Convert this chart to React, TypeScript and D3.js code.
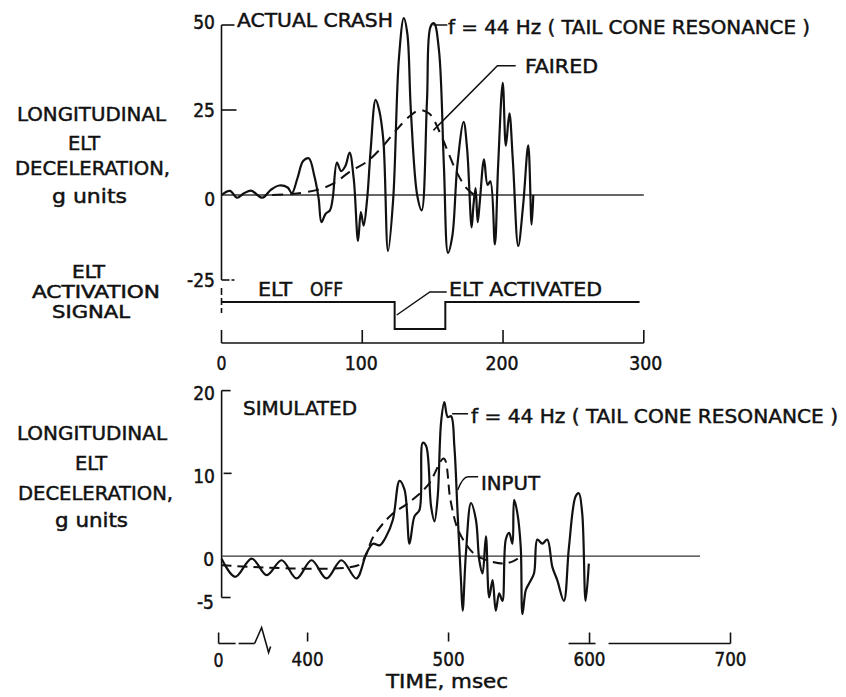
import React from "react";
import * as d3 from "d3";

// ---- data ----
const topTicksX = [0, 100, 200, 300];
const topTickLabelsY = ["50", "25", "0", "-25"];
const topTicksY = [50, 25, 0, -25];

const crashT = [0, 6, 11, 16, 21, 29, 35, 41, 47, 50, 54, 58, 62, 66, 69, 71, 74, 77, 79, 82, 85, 88, 91, 94, 97, 99, 101, 103.5, 106, 109.5, 112, 115, 118.3, 122, 126, 129.5, 132, 134.5, 139, 142.2, 146, 148.5, 151, 154.5, 158, 160.9, 164, 167.5, 172, 174.5, 177.7, 179, 180.5, 182, 183.5, 186.5, 189, 191, 194.2, 196.5, 199.8, 202, 204.5, 207, 210.8, 214.3, 217.9, 220.3, 221.5];
const crashG = [0, 1.2, -0.8, 0.5, 1.3, -0.8, 1.5, 2.8, 2.2, 0.5, 5, 10, 10.8, 5.5, -1, -8, -5.5, -4.5, -1, 9.5, 7, 8.5, 12.5, 4.5, -13.5, -5, -9, -1, 13.5, 28, 25, 16, -16.5, -1, 40, 52, 47.5, 25, 0, -4.5, 28, 49.5, 50.5, 42.5, 8.5, -17, -12, 8.5, 21.5, 13.5, -9.5, -3, 2, -8, -2, 10.5, 3, 4, -14.5, 8.5, 33, 14.5, 24, 10, -15, -2.9, 14.6, -8.7, 0];

const fairedT = [36, 50, 68, 80, 91, 103, 113, 124, 134, 141, 148, 155, 161, 167, 174, 179];
const fairedG = [0, 0.3, 1.5, 3.5, 6.8, 9.7, 13.6, 19, 23.3, 25, 23.8, 18.5, 12.6, 6.8, 2, 0.2];

const signalT = [0, 123, 123, 159, 159, 297];
const signalLevel = [1, 1, 0, 0, 1, 1];

const bottomTicksX = [400, 500, 600, 700];
const bottomTicksY = [20, 10, 0, -5];
const bottomTickLabelsY = ["20", "10", "0", "-5"];

const simT = [339, 348.6, 360.4, 371, 381.6, 392.2, 402.8, 413.4, 424, 434.6, 441.7, 446.4, 451.1, 455.8, 460.5, 465.2, 468.8, 472.3, 475.8, 479.4, 481.7, 484.1, 487.6, 490, 492.3, 494.7, 497, 499.4, 501.8, 504.1, 506.4, 508.8, 510, 512.3, 515.9, 519.4, 521.8, 524.1, 526.5, 528.8, 531.2, 533.5, 535.9, 538.2, 540.6, 543, 545.3, 546.5, 548.8, 551.2, 552.4, 554.8, 557.1, 560.6, 563, 566.5, 570, 573.6, 577.1, 581.8, 585.4, 590.1, 592.4, 594.8, 597.2, 599.5];
const simG = [-0.3, -2.5, -0.3, -2.3, -0.5, -2.7, -0.5, -2.7, -0.5, -2.7, 0.3, 1.5, 1.3, 2.4, 4.4, 9.1, 8, 1.5, 4.8, 5.6, 13.7, 13.3, 6, 4.2, 7.2, 16.2, 18.6, 16.8, 16.9, 13.3, 5.2, -2.9, -6.6, 0.3, 6.4, 4.4, -0.5, -2.1, 2.4, -5, -2.9, -6.6, -4.5, -5.4, 2, 2.8, 1.5, 6.8, 5.2, 1.1, -7, -4.1, -3.3, -2.1, 2, 1.5, 2, -1.3, -2.9, -5.4, 1.1, 7.2, 7.6, 5.2, -5.4, -0.9];

const inputT = [339, 436, 441, 446.5, 459.5, 471.3, 485.5, 496.6, 501.3, 506, 511.4, 518, 525.5, 538.5, 546, 551.5];
const inputG = [-1.1, -1.1, 0, 2.3, 5, 6.4, 8.6, 11.8, 6.8, 3.5, 1.7, 0.3, -0.4, -0.9, -0.6, 0];

const FONT = "'DejaVu Sans Condensed', 'Liberation Sans Narrow', 'DejaVu Sans', sans-serif";
const INK = "#111";

type LP = { x: number; y: number; t: string; len?: number; anchor?: "start" | "middle" | "end"; size?: number };
const L = ({ x, y, t, len, anchor = "start", size = 20 }: LP) => (
  <text
    x={x}
    y={y}
    fontSize={size}
    fontFamily={FONT}
    fill={INK}
    stroke={INK}
    strokeWidth={0.45}
    textAnchor={anchor}
    textLength={len}
    lengthAdjust={len ? "spacingAndGlyphs" : undefined}
  >
    {t}
  </text>
);

export default function App() {
  const xTop = d3.scaleLinear().domain([0, 300]).range([221.5, 643.8]);
  const yTop = d3.scaleLinear().domain([-25, 50]).range([280, 25]);
  const ySig = d3.scaleLinear().domain([0, 1]).range([329, 302]);
  const xBot = d3.scaleLinear().domain([400, 700]).range([307.6, 730.5]);
  const yBot = d3.scaleLinear().domain([-5, 20]).range([597.5, 390.6]);

  const curve = d3.curveCatmullRom.alpha(0.5);
  const topLine = d3.line<number>().x((_, i) => xTop(crashT[i])).y((d) => yTop(d)).curve(curve);
  const fairLine = d3.line<number>().x((_, i) => xTop(fairedT[i])).y((d) => yTop(d)).curve(curve);
  const sigLine = d3.line<number>().x((_, i) => xTop(signalT[i])).y((d) => ySig(d));
  const simLine = d3.line<number>().x((_, i) => xBot(simT[i])).y((d) => yBot(d)).curve(curve);
  const inLine = d3.line<number>().x((_, i) => xBot(inputT[i])).y((d) => yBot(d)).curve(curve);

  const ax = xTop(0);
  const axB = xBot(simT[0]);
  const xAxisY = 343;
  const bAxisY = 643.5;

  return (
    <div>
      <style>{"body{margin:0;background:#fff}"}</style>
      <svg width={846} height={697} style={{ display: "block" }}>
        <rect width={846} height={697} fill="#fff" />
        {/* ---------- left labels ---------- */}
        <L x={17} y={121} t="LONGITUDINAL" len={149} />
        <L x={68} y={150} t="ELT" len={32} />
        <L x={15} y={175} t="DECELERATION," len={155} />
        <L x={52} y={203} t="g units" len={75} />
        <L x={72} y={278} t="ELT" len={33} size={17} />
        <L x={32} y={298} t="ACTIVATION" len={128} size={17} />
        <L x={52} y={318} t="SIGNAL" len={78} size={17} />

        <L x={17} y={440} t="LONGITUDINAL" len={150} />
        <L x={75} y={470} t="ELT" len={32} />
        <L x={18} y={500} t="DECELERATION," len={155} />
        <L x={55} y={527} t="g units" len={73} />

        {/* ---------- top chart axes ---------- */}
        <g stroke={INK} strokeWidth={1.6} fill="none">
          <line x1={ax} x2={ax} y1={yTop(50)} y2={yTop(-25)} />
          <line x1={ax} x2={ax + 13} y1={yTop(50)} y2={yTop(50)} />
          <line x1={ax} x2={ax + 15} y1={yTop(25)} y2={yTop(25)} />
          <line x1={ax} x2={ax + 8} y1={yTop(-25)} y2={yTop(-25)} />
          <line x1={ax + 10} x2={ax + 13} y1={yTop(-25)} y2={yTop(-25)} />
        </g>
        <line x1={ax} x2={xTop(300)} y1={yTop(0)} y2={yTop(0)} stroke="#333" strokeWidth={1.3} />
        {topTicksY.map((v, i) => (
          <L key={"ty" + v} x={215} y={yTop(v) + (v === 50 ? 4 : v === 0 ? 11 : 7)} t={topTickLabelsY[i]} anchor="end" size={19} />
        ))}

        {/* faired + actual crash */}
        <path d={fairLine(fairedG) || ""} fill="none" stroke={INK} strokeWidth={2} strokeDasharray="11,7" />
        <path d={topLine(crashG) || ""} fill="none" stroke={INK} strokeWidth={2.2} strokeLinejoin="round" />

        {/* top annotations */}
        <L x={237} y={27} t="ACTUAL CRASH" len={156} />
        <line x1={xTop(150.5)} x2={xTop(150.5) + 14} y1={yTop(50)} y2={yTop(50)} stroke={INK} strokeWidth={1.5} />
        <L x={448} y={34} t="f = 44 Hz ( TAIL CONE RESONANCE )" len={362} />
        <polyline points={`${xTop(150.5)},${yTop(19)} ${xTop(196)},${yTop(38)} ${xTop(209)},${yTop(38)}`} fill="none" stroke={INK} strokeWidth={1.5} />
        <L x={525} y={73} t="FAIRED" len={73} />

        {/* ---------- activation signal ---------- */}
        <path d={sigLine(signalLevel) || ""} fill="none" stroke={INK} strokeWidth={2} />
        <line x1={ax} x2={ax} y1={288} y2={313} stroke={INK} strokeWidth={1.6} strokeDasharray="7,3" />
        <L x={258} y={296} t="ELT" len={34} />
        <L x={310} y={296} t="OFF" len={33} />
        <polyline points={`${xTop(124.5)},315 ${xTop(148)},292 ${xTop(160)},292`} fill="none" stroke={INK} strokeWidth={1.5} />
        <L x={449} y={296} t="ELT ACTIVATED" len={153} />

        {/* top x axis */}
        <g stroke={INK} strokeWidth={1.6}>
          <line x1={xTop(0)} x2={xTop(300)} y1={xAxisY} y2={xAxisY} />
          {topTicksX.map((t) => (
            <line key={"tx" + t} x1={xTop(t)} x2={xTop(t)} y1={xAxisY - 13} y2={xAxisY} />
          ))}
        </g>
        {topTicksX.map((t) => (
          <L key={"txl" + t} x={xTop(t) + (t === 300 ? 2 : t === 0 ? 0 : -1)} y={370} t={String(t)} anchor="middle" size={19} len={t === 0 ? 10 : 33} />
        ))}

        {/* ---------- bottom chart ---------- */}
        <g stroke={INK} strokeWidth={1.6} fill="none">
          <line x1={axB} x2={axB} y1={yBot(20)} y2={yBot(-5)} />
          <line x1={axB} x2={axB + 9} y1={yBot(20)} y2={yBot(20)} />
          <line x1={axB + 2} x2={axB + 10} y1={yBot(10)} y2={yBot(10)} />
          <line x1={axB} x2={axB + 9} y1={yBot(-5)} y2={yBot(-5)} />
        </g>
        <line x1={axB} x2={700} y1={yBot(0)} y2={yBot(0)} stroke="#333" strokeWidth={1.3} />
        {bottomTicksY.map((v, i) => (
          <L key={"by" + v} x={v === 0 || v === -5 ? 214 : 215} y={yBot(v) + (v === 20 ? 9 : v === 10 ? 10 : v === 0 ? 10 : 11)} t={bottomTickLabelsY[i]} anchor="end" size={19} />
        ))}

        <path d={inLine(inputG) || ""} fill="none" stroke={INK} strokeWidth={2} strokeDasharray="10,6" />
        <path d={simLine(simG) || ""} fill="none" stroke={INK} strokeWidth={2.2} strokeLinejoin="round" />

        <L x={243} y={415} t="SIMULATED" len={114} />
        <line x1={xBot(502.5)} x2={xBot(502.5) + 16} y1={yBot(17.2)} y2={yBot(17.2)} stroke={INK} strokeWidth={1.5} />
        <L x={471} y={423} t="f = 44 Hz ( TAIL CONE RESONANCE )" len={367} />
        <path
          d={`M${xBot(506.5)},${yBot(8)} Q${xBot(510)},${yBot(9.6)} ${xBot(514)},${yBot(9.6)} L${xBot(521)},${yBot(9.6)}`}
          fill="none"
          stroke={INK}
          strokeWidth={1.5}
        />
        <L x={481} y={490} t="INPUT" len={59} />

        {/* bottom broken x axis */}
        <g stroke={INK} strokeWidth={1.6} fill="none">
          <line x1={axB - 3} x2={axB - 3} y1={bAxisY - 11} y2={bAxisY} />
          <line x1={axB - 3} x2={axB + 14} y1={bAxisY} y2={bAxisY} />
          <line x1={axB + 17} x2={axB + 33} y1={bAxisY} y2={bAxisY} />
          <polyline points={`${axB + 33},${bAxisY} ${axB + 40},${bAxisY - 16} ${axB + 47},${bAxisY + 9} ${axB + 49},${bAxisY + 3}`} />
          {bottomTicksX.map((t) => (
            <line key={"bx" + t} x1={xBot(t)} x2={xBot(t)} y1={bAxisY - 11} y2={t >= 600 ? bAxisY : bAxisY - 2} />
          ))}
          <line x1={xBot(600) - 21} x2={xBot(600) + 6} y1={bAxisY} y2={bAxisY} />
          <line x1={xBot(600) + 19} x2={xBot(700)} y1={bAxisY} y2={bAxisY} />
        </g>
        <L x={axB - 3} y={667} t="0" anchor="middle" size={19} len={10} />
        {bottomTicksX.map((t) => (
          <L key={"bxl" + t} x={xBot(t)} y={666} t={String(t)} anchor="middle" size={19} len={32} />
        ))}
        <L x={386} y={688} t="TIME,  msec" len={122} />
      </svg>
    </div>
  );
}
